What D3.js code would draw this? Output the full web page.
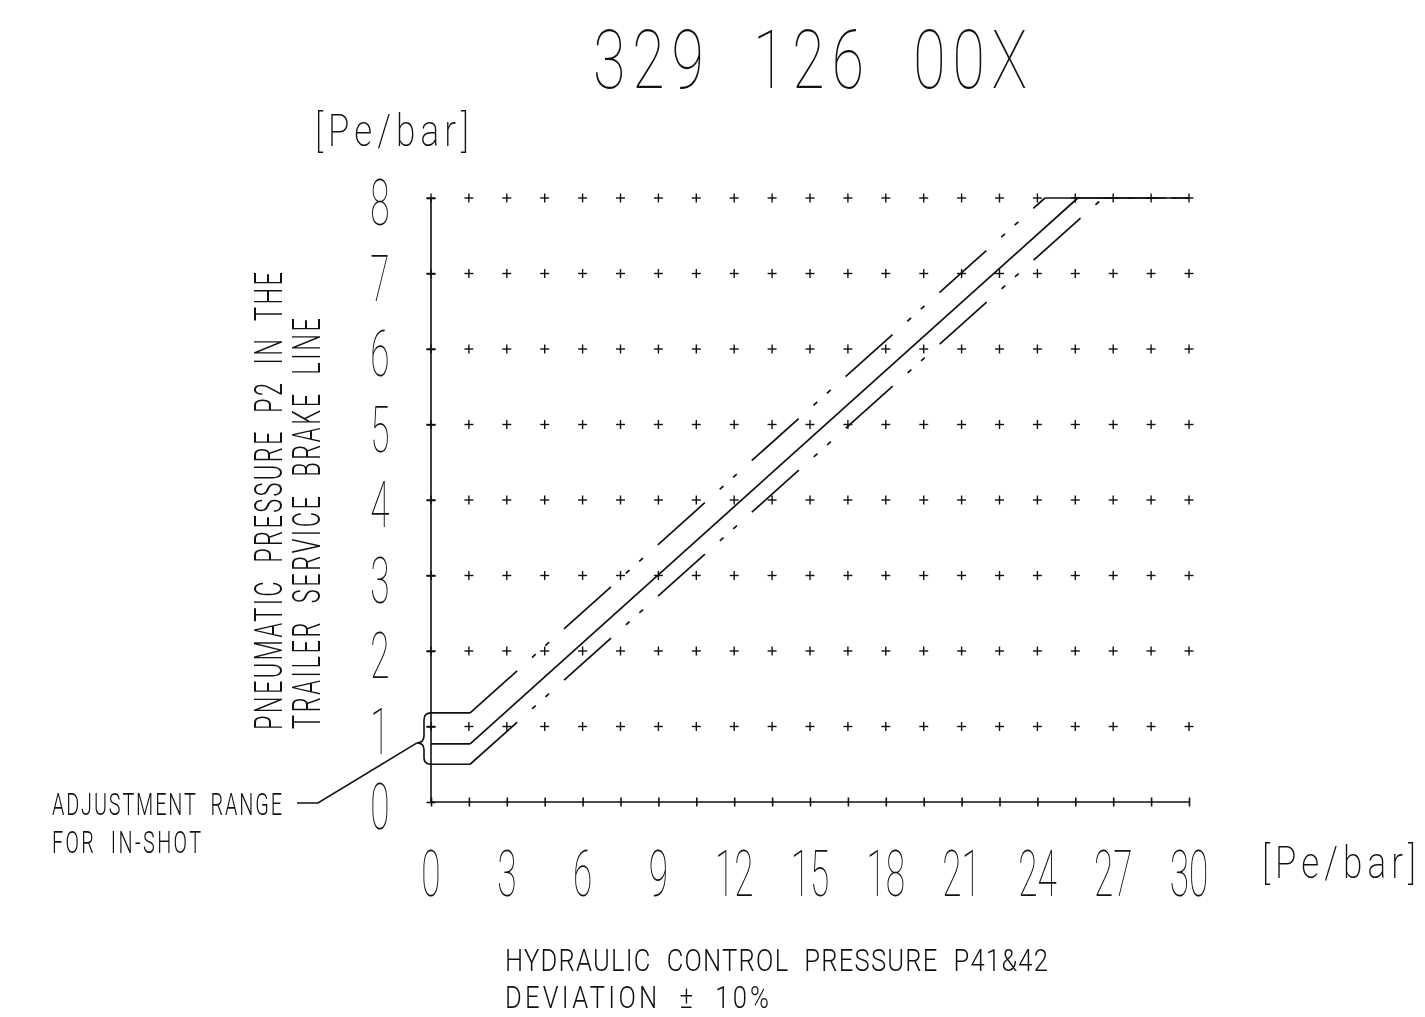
<!DOCTYPE html>
<html>
<head>
<meta charset="utf-8">
<script src="https://cdn.jsdelivr.net/npm/d3@7"></script>
<style>
  html, body { margin: 0; padding: 0; background: #fff; }
  svg { display: block; will-change: transform; }
  text { font-family: Roboto, "Liberation Sans Narrow", sans-serif; fill: #111; white-space: pre; }
</style>
</head>
<body>
<svg id="chart" width="1425" height="1017"></svg>
<script>
// ---------- data ----------
const xTickValues = [0, 3, 6, 9, 12, 15, 18, 21, 24, 27, 30];
const yTickValues = [0, 1, 2, 3, 4, 5, 6, 7, 8];
const gridXValues = [0, 1.5, 3, 4.5, 6, 7.5, 9, 10.5, 12, 13.5, 15, 16.5, 18, 19.5, 21, 22.5, 24, 25.5, 27, 28.5, 30];
const gridYValues = [1, 2, 3, 4, 5, 6, 7, 8];

// nominal characteristic (solid) and the +/- deviation band (dashed)
const nominalX = [0, 1.55, 25.6, 30];
const nominalY = [0.77, 0.77, 8, 8];
const upperX = [0, 1.55, 24.3, 30];
const upperY = [1.18, 1.18, 8, 8];
const lowerX = [0, 1.55, 26.6, 30];
const lowerY = [0.5, 0.5, 8, 8];

const titleText = "329  126  00X";
const unitText = "[Pe/bar]";
const yTitleLines = ["PNEUMATIC  PRESSURE  P2  IN  THE", "TRAILER  SERVICE  BRAKE  LINE"];
const xTitleLines = ["HYDRAULIC  CONTROL  PRESSURE  P41&42", "DEVIATION  \u00B1  10%"];
const noteLines = ["ADJUSTMENT  RANGE", "FOR  IN-SHOT"];

// ---------- layout ----------
const svg = d3.select("#chart");
const x = d3.scaleLinear().domain([0, 30]).range([431, 1189]);
const y = d3.scaleLinear().domain([0, 8]).range([802, 198]);
const ink = "#111";

// narrow glyphs, spacing stretched to the measured width
function cadText(g, str, px, py, size, len, sx, weight, rot) {
  return g.append("text")
    .attr("transform", `translate(${px},${py})${rot ? ` rotate(${rot})` : ""} scale(${sx},1)`)
    .attr("font-size", size)
    .attr("font-weight", weight)
    .attr("textLength", len / sx)
    .attr("lengthAdjust", "spacing")
    .text(str);
}

// ---------- grid plus marks ----------
const pm = 4.5;
const grid = svg.append("g").attr("stroke", ink).attr("stroke-width", 1.4);
gridYValues.forEach(gy => {
  gridXValues.forEach(gx => {
    grid.append("line").attr("x1", x(gx) - pm).attr("x2", x(gx) + pm).attr("y1", y(gy)).attr("y2", y(gy));
    grid.append("line").attr("x1", x(gx)).attr("x2", x(gx)).attr("y1", y(gy) - pm).attr("y2", y(gy) + pm);
  });
});

// ---------- axes ----------
const xAxis = d3.axisBottom(x).tickValues(gridXValues).tickSizeInner(pm * 2).tickSizeOuter(0).tickFormat("");
const gxAxis = svg.append("g").attr("transform", `translate(0,${y(0) - pm})`).call(xAxis);
gxAxis.select(".domain").attr("d", `M${x(0)},${pm}H${x(30)}`);
gxAxis.selectAll("path, line").attr("stroke", ink).attr("stroke-width", 1.6);

const yAxis = d3.axisLeft(y).tickValues(yTickValues).tickSizeInner(pm * 2).tickSizeOuter(0).tickFormat("");
const gyAxis = svg.append("g").attr("transform", `translate(${x(0) + pm},0)`).call(yAxis);
gyAxis.select(".domain").attr("d", `M${-pm},${y(0)}V${y(8)}`);
gyAxis.selectAll("path, line").attr("stroke", ink).attr("stroke-width", 1.6);

// tick labels (narrow CAD-like digits)
const tickSize = 64;
svg.append("g").selectAll("text").data(xTickValues).join("text")
  .attr("text-anchor", "middle")
  .attr("font-size", tickSize)
  .attr("font-weight", 100)
  .attr("transform", d => `translate(${x(d)},${y(0) + 94}) scale(0.55,1)`)
  .text(d => d);
svg.append("g").selectAll("text").data(yTickValues).join("text")
  .attr("text-anchor", "middle")
  .attr("font-size", tickSize)
  .attr("font-weight", 100)
  .attr("transform", d => `translate(${x(0) - 51},${y(d) + 27}) scale(0.55,1)`)
  .text(d => d);

// ---------- characteristic lines ----------
const dashPattern = "63 20 5 13 5 20";
function drawSeries(xs, ys, dashed) {
  const pts = xs.map((v, i) => [x(v), y(ys[i])]);
  const g = svg.append("g").attr("stroke", ink).attr("stroke-width", 1.7).attr("fill", "none");
  for (let i = 0; i < pts.length - 1; i++) {
    g.append("path")
      .attr("d", d3.line()([pts[i], pts[i + 1]]))
      .attr("stroke-dasharray", dashed ? dashPattern : null);
  }
}
drawSeries(nominalX, nominalY, false);
drawSeries(upperX, upperY, true);
drawSeries(lowerX, lowerY, true);

// ---------- brace + leader for adjustment range ----------
const bx = x(0), bTop = y(upperY[0]), bBot = y(lowerY[0]), bMid = y(nominalY[0]) - 1;
const bw = 7, tip = 14;
const brace = d3.path();
brace.moveTo(bx, bTop);
brace.quadraticCurveTo(bx - bw, bTop, bx - bw, bTop + bw);
brace.lineTo(bx - bw, bMid - bw);
brace.quadraticCurveTo(bx - bw, bMid, bx - tip, bMid);
brace.quadraticCurveTo(bx - bw, bMid, bx - bw, bMid + bw);
brace.lineTo(bx - bw, bBot - bw);
brace.quadraticCurveTo(bx - bw, bBot, bx, bBot);
svg.append("path").attr("d", brace.toString()).attr("fill", "none").attr("stroke", ink).attr("stroke-width", 1.6);

const noteY = y(0) + 1;
svg.append("path")
  .attr("d", d3.line()([[bx - tip, bMid], [318, noteY], [297, noteY]]))
  .attr("fill", "none").attr("stroke", ink).attr("stroke-width", 1.6);

// ---------- texts ----------
cadText(svg, titleText, 593, 88, 82, 434, 0.72, 100);
cadText(svg, unitText, 315, 146, 44, 154, 0.8, 200);
cadText(svg, unitText, 1262, 878, 44, 154, 0.8, 200);

cadText(svg, noteLines[0], 52, 815, 32, 230, 0.62, 300);
cadText(svg, noteLines[1], 52, 853, 32, 149, 0.62, 300);

cadText(svg, xTitleLines[0], 505, 971, 32, 543, 0.8, 300);
cadText(svg, xTitleLines[1], 505, 1008, 32, 264, 0.8, 300);

cadText(svg, yTitleLines[0], 282, 730, 38, 458, 0.62, 300, -90);
cadText(svg, yTitleLines[1], 320, 729, 38, 411, 0.62, 300, -90);
</script>
</body>
</html>
